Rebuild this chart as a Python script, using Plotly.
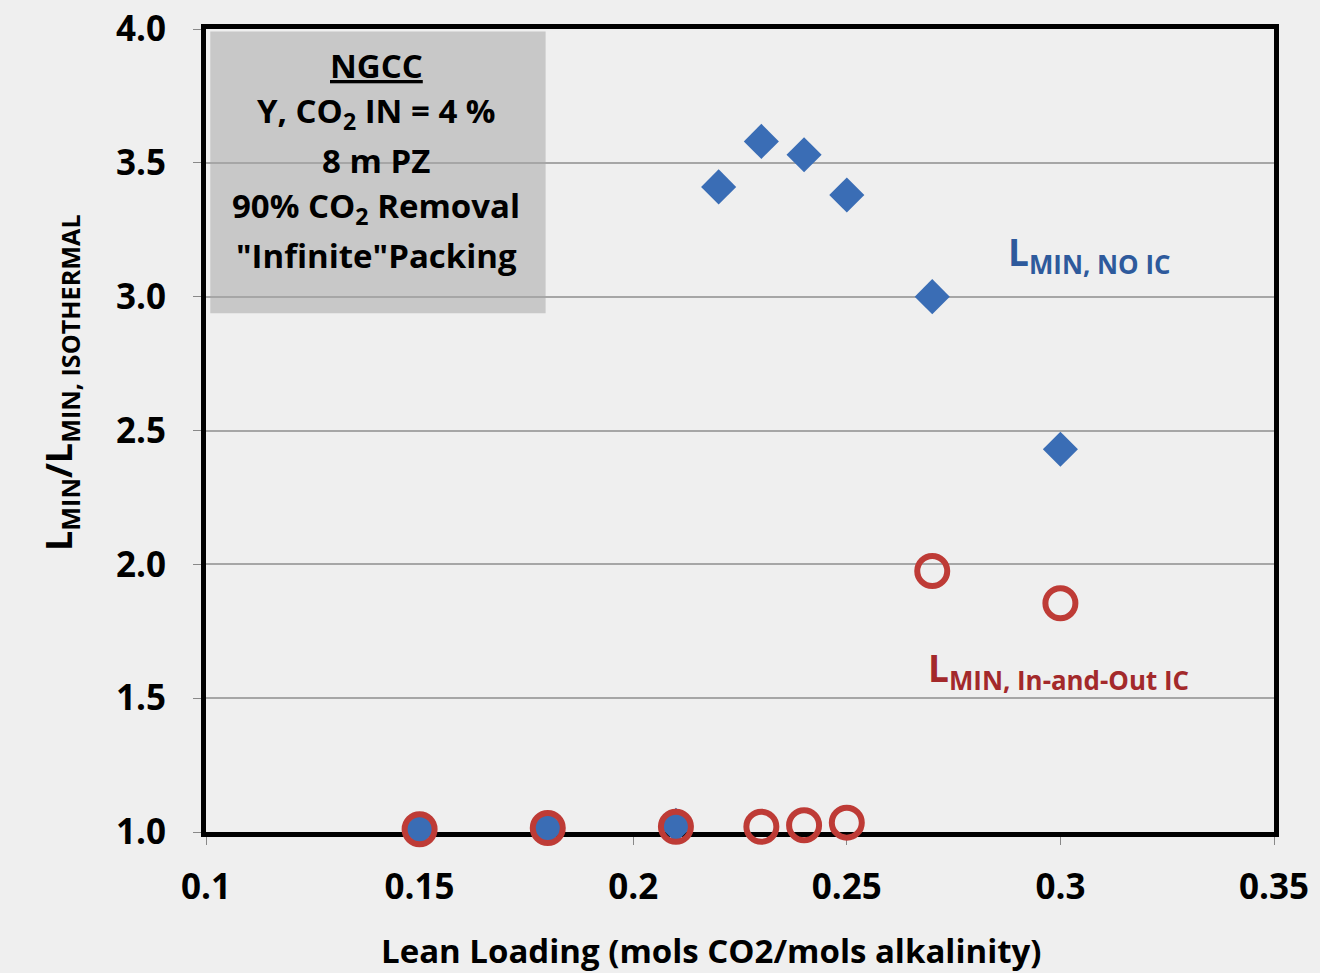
import plotly.graph_objects as go

# Data
x_noic = [0.15, 0.18, 0.21, 0.22, 0.23, 0.24, 0.25, 0.27, 0.30]
y_noic = [1.01, 1.015, 1.025, 3.41, 3.58, 3.53, 3.38, 3.00, 2.43]
x_io = [0.15, 0.18, 0.21, 0.23, 0.24, 0.25, 0.27, 0.30]
y_io = [1.01, 1.015, 1.02, 1.02, 1.025, 1.035, 1.975, 1.855]

x_ticks = [0.1, 0.15, 0.2, 0.25, 0.3, 0.35]
x_ticklabels = ["0.1", "0.15", "0.2", "0.25", "0.3", "0.35"]
y_ticks = [1.0, 1.5, 2.0, 2.5, 3.0, 3.5, 4.0]

FONT = "Open Sans"
BG = "#efefef"
BLUE = "#3A6DB5"
RED = "#BE3B36"

fig = go.Figure()
fig.add_trace(go.Scatter(
    x=x_noic, y=y_noic, mode="markers", name="L MIN, NO IC",
    marker=dict(symbol="diamond", size=27, color=BLUE, line=dict(width=0)),
    cliponaxis=False, showlegend=False))
fig.add_trace(go.Scatter(
    x=x_io, y=y_io, mode="markers", name="L MIN, In-and-Out IC",
    marker=dict(symbol="circle-open", size=30, color=RED, line=dict(width=6, color=RED)),
    cliponaxis=False, showlegend=False))

fig.update_layout(
    width=1320, height=973,
    margin=dict(l=206, r=46, t=29, b=141, autoexpand=False),
    paper_bgcolor=BG, plot_bgcolor=BG,
    font=dict(family=FONT, color="black"),
    xaxis=dict(range=[0.1, 0.35], tickvals=x_ticks, ticktext=x_ticklabels,
               showgrid=False, zeroline=False, automargin=False,
               showline=True, linecolor="black", linewidth=5, mirror=True,
               ticks="outside", ticklen=8, tickcolor="#888888", tickwidth=1,
               tickfont=dict(size=35, family=FONT, color="black", weight="bold"),
               ticklabelstandoff=12, layer="below traces"),
    yaxis=dict(range=[1.0, 4.0], tickvals=y_ticks, tickformat=".1f",
               showgrid=True, gridcolor="#a6a6a6", gridwidth=2, zeroline=False,
               automargin=False,
               showline=True, linecolor="black", linewidth=5, mirror=True,
               ticks="outside", ticklen=8, tickcolor="#888888", tickwidth=1,
               tickfont=dict(size=35, family=FONT, color="black", weight="bold"),
               ticklabelstandoff=20, layer="below traces"),
)

# Info box
fig.add_shape(type="rect", xref="paper", yref="paper",
              x0=0.004, x1=0.318, y0=0.646, y1=0.997,
              fillcolor="#c8c8c8", line=dict(width=0), layer="below")

box_lines = ["<u>NGCC</u>", "Y, CO<sub>2</sub> IN = 4 %", "8 m PZ",
             "90% CO<sub>2</sub> Removal", "\"Infinite\"Packing"]
box_y_px = [66, 113, 160, 207, 255]
for txt, ypx in zip(box_lines, box_y_px):
    fig.add_annotation(xref="paper", yref="paper",
                       x=(376 - 206) / 1068, y=(832 - ypx) / 803,
                       text=txt, showarrow=False, xanchor="center", yanchor="middle",
                       font=dict(size=33, family=FONT, color="black", weight="bold"))

# Series labels
fig.add_annotation(xref="paper", yref="paper",
                   x=(1089 - 206) / 1068, y=(832 - 254) / 803,
                   text="L<sub>MIN, NO IC</sub>", showarrow=False,
                   xanchor="center", yanchor="middle",
                   font=dict(size=37, family=FONT, color="#2E5A9C", weight="bold"))
fig.add_annotation(xref="paper", yref="paper",
                   x=(1058 - 206) / 1068, y=(832 - 670) / 803,
                   text="L<sub>MIN, In-and-Out IC</sub>", showarrow=False,
                   xanchor="center", yanchor="middle",
                   font=dict(size=37, family=FONT, color="#A3292B", weight="bold"))

# Axis titles
fig.add_annotation(xref="paper", yref="paper",
                   x=(60 - 206) / 1068, y=(832 - 383) / 803,
                   text="L<sub>MIN</sub>/L<sub>MIN, ISOTHERMAL</sub>", showarrow=False,
                   textangle=-90, xanchor="center", yanchor="middle",
                   font=dict(size=36, family=FONT, color="black", weight="bold"))
fig.add_annotation(xref="paper", yref="paper",
                   x=(711 - 206) / 1068, y=(832 - 951) / 803,
                   text="Lean Loading (mols CO2/mols alkalinity)", showarrow=False,
                   xanchor="center", yanchor="middle",
                   font=dict(size=33, family=FONT, color="black", weight="bold"))

fig.write_html(
    "out.html",
    config={"displayModeBar": False},
    post_script="document.body.style.margin='0';document.body.style.background='#efefef';"
                "document.documentElement.style.overflow='hidden';",
)
